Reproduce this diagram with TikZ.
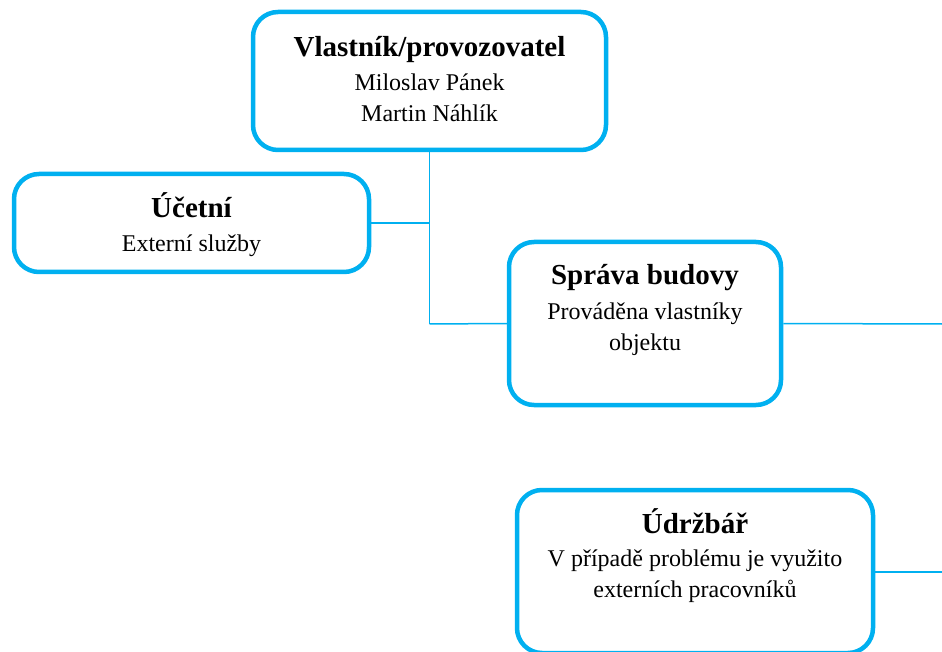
\documentclass[tikz,border=0pt]{standalone}
\usepackage{fontspec}
\setmainfont{Liberation Serif}
\definecolor{boxblue}{HTML}{00B0F0}
\begin{document}
\begin{tikzpicture}[x=1pt,y=-1pt,
  orgbox/.style={draw=boxblue,line width=4.5pt,rounded corners=25pt,inner sep=0pt,fill=white},
  conn/.style={draw=boxblue,line width=1.5pt},
  ttl/.style={anchor=base,inner sep=0pt,font=\fontsize{29}{34}\selectfont\bfseries},
  txt/.style={anchor=base,inner sep=0pt,font=\fontsize{24}{29}\selectfont}]
\useasboundingbox (0,0) rectangle (942,652);
% boxes
\node[orgbox,minimum width=353pt,minimum height=138pt] (top) at (429.5,81) {};
\node[orgbox,minimum width=355pt,minimum height=98pt] (uc) at (191.5,223) {};
\node[orgbox,minimum width=272pt,minimum height=163pt] (sp) at (645,323.5) {};
\node[orgbox,minimum width=356pt,minimum height=163pt] (ud) at (695,571.5) {};
% connectors
\coordinate (j1) at (429.5,223);
\coordinate (j2) at (429.5,324);
\coordinate (r1) at (942,324);
\coordinate (r2) at (942,572);
\draw[conn] (top.south) -- (j2);
\draw[conn] (uc.east) -- (j1);
\draw[conn] (j2) -- (sp.west);
\draw[conn] (sp.east) -- (r1);
\draw[conn] (ud.east |- r2) -- (r2);
% texts
\node[ttl] (t1) at (429.5,57) {Vlastník/provozovatel};
\node[txt] (t2) at (429.5,91) {Miloslav Pánek};
\node[txt] (t3) at (429.5,122) {Martin Náhlík};
\node[ttl] (u1) at (191.5,218) {Účetní};
\node[txt] (u2) at (191.5,252) {Externí služby};
\node[ttl] (s1) at (645,285) {Správa budovy};
\node[txt] (s2) at (645,319) {Prováděna vlastníky};
\node[txt] (s3) at (645,350) {objektu};
\node[ttl] (d1) at (695,533) {Údržbář};
\node[txt] (d2) at (695,566) {V případě problému je využito};
\node[txt] (d3) at (695,597) {externích pracovníků};
\end{tikzpicture}
\end{document}
